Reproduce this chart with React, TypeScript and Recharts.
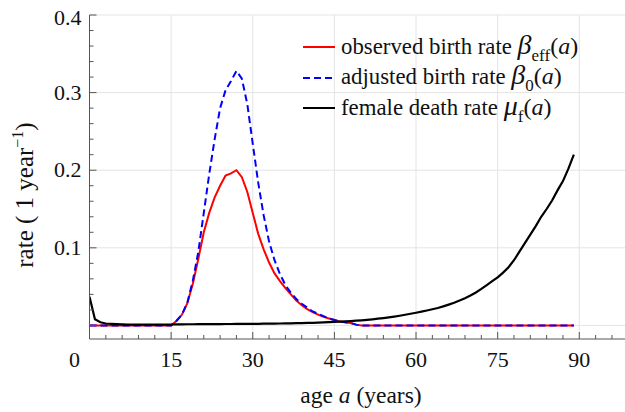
import { LineChart, Line, XAxis, YAxis, CartesianGrid, Legend } from "recharts";

// age in years
const ages = [
  0, 1, 2, 3, 4, 5, 6, 7, 8, 9, 10, 11, 12, 13, 14, 15, 16, 17, 18, 19,
  20, 21, 22, 23, 24, 25, 26, 27, 28, 29, 30, 31, 32, 33, 34, 35, 36, 37, 38, 39,
  40, 41, 42, 43, 44, 45, 46, 47, 48, 49, 50, 51, 52, 53, 54, 55, 56, 57, 58, 59,
  60, 61, 62, 63, 64, 65, 66, 67, 68, 69, 70, 71, 72, 73, 74, 75, 76, 77, 78, 79,
  80, 81, 82, 83, 84, 85, 86, 87, 88, 89,
];

const observedBirth = [
  0, 0, 0, 0, 0, 0, 0, 0, 0, 0, 0, 0, 0, 0, 0, 0, 0.006, 0.014, 0.029, 0.054,
  0.086, 0.12, 0.145, 0.165, 0.18, 0.193, 0.196, 0.2, 0.191, 0.172, 0.145, 0.118, 0.098, 0.081, 0.067, 0.057, 0.048, 0.04, 0.032, 0.026,
  0.021, 0.017, 0.014, 0.011, 0.009, 0.007, 0.005, 0.004, 0.003, 0.001, 0, 0, 0, 0, 0, 0, 0, 0, 0, 0,
  0, 0, 0, 0, 0, 0, 0, 0, 0, 0, 0, 0, 0, 0, 0, 0, 0, 0, 0, 0,
  0, 0, 0, 0, 0, 0, 0, 0, 0, 0,
];

const adjustedBirth = [
  0, 0, 0, 0, 0, 0, 0, 0, 0, 0, 0, 0, 0, 0, 0, 0, 0.006, 0.014, 0.03, 0.058,
  0.095, 0.145, 0.195, 0.24, 0.28, 0.303, 0.315, 0.328, 0.318, 0.285, 0.234, 0.184, 0.142, 0.108, 0.084, 0.066, 0.052, 0.042, 0.034, 0.028,
  0.023, 0.018, 0.015, 0.012, 0.009, 0.007, 0.005, 0.004, 0.003, 0.001, 0, 0, 0, 0, 0, 0, 0, 0, 0, 0,
  0, 0, 0, 0, 0, 0, 0, 0, 0, 0, 0, 0, 0, 0, 0, 0, 0, 0, 0, 0,
  0, 0, 0, 0, 0, 0, 0, 0, 0, 0,
];

const femaleDeath = [
  0.037, 0.008, 0.004, 0.0025, 0.002, 0.0016, 0.0013, 0.0011, 0.001, 0.001, 0.001, 0.001, 0.001, 0.001, 0.0011, 0.0012, 0.0013, 0.0014, 0.0015, 0.0015,
  0.0016, 0.0016, 0.0016, 0.0017, 0.0017, 0.0018, 0.0018, 0.0019, 0.0019, 0.002, 0.002, 0.0021, 0.0022, 0.0023, 0.0024, 0.0025, 0.0026, 0.0027, 0.0029, 0.003,
  0.0032, 0.0034, 0.0036, 0.0039, 0.0042, 0.0045, 0.0048, 0.0052, 0.0056, 0.0061, 0.0066, 0.0072, 0.0079, 0.0087, 0.0095, 0.0104, 0.0114, 0.0125, 0.0137, 0.015,
  0.0163, 0.0177, 0.0192, 0.0208, 0.0225, 0.0245, 0.0268, 0.0292, 0.032, 0.035, 0.0385, 0.0425, 0.047, 0.052, 0.057, 0.062, 0.068, 0.075, 0.084, 0.095,
  0.106, 0.117, 0.128, 0.14, 0.15, 0.161, 0.174, 0.186, 0.202, 0.22,
];

const xTicks = [0, 3, 6, 9, 12, 15, 18, 21, 24, 27, 30, 33, 36, 39, 42, 45, 48, 51, 54, 57, 60, 63, 66, 69, 72, 75, 78, 81, 84, 87, 90, 93, 96];
const yTicks = [0, 0.02, 0.04, 0.06, 0.08, 0.1, 0.12, 0.14, 0.16, 0.18, 0.2, 0.22, 0.24, 0.26, 0.28, 0.3, 0.32, 0.34, 0.36, 0.38, 0.4];
const xGrid = [15, 30, 45, 60, 75, 90];
const yGrid = [0, 0.1, 0.2, 0.3, 0.4];

const data = ages.map((age, i) => ({
  age,
  observed: observedBirth[i],
  adjusted: adjustedBirth[i],
  death: femaleDeath[i],
}));

const FONT = "'Liberation Serif', 'Times New Roman', serif";
const FRAME = "#555";

const XTick = (props: any) => {
  const { x, y, payload, top } = props;
  const v = payload.value;
  const major = v % 15 === 0;
  const len = major ? 7 : 4;
  if (top) {
    return <line x1={x} x2={x} y1={y} y2={y + len} stroke={FRAME} strokeWidth={1} />;
  }
  return (
    <g>
      <line x1={x} x2={x} y1={y} y2={y - len} stroke={FRAME} strokeWidth={1} />
      {major && (
        <text x={v === 0 ? x - 15 : x} y={y + 28} textAnchor="middle" fontFamily={FONT} fontSize={22} fill="#111">
          {v}
        </text>
      )}
    </g>
  );
};

const YTick = (props: any) => {
  const { x, y, payload } = props;
  const v = payload.value;
  const major = Math.round(v * 100) % 10 === 0;
  const len = major ? 7 : 4;
  return (
    <g>
      <line x1={x} x2={x + len} y1={y} y2={y} stroke={FRAME} strokeWidth={1} />
      {major && v > 0 && (
        <text x={x - 8} y={y + (v >= 0.4 ? 10 : 7)} textAnchor="end" fontFamily={FONT} fontSize={22} fill="#111">
          {v.toFixed(1)}
        </text>
      )}
    </g>
  );
};

const legendRows = [
  { color: "#ff0000", dash: undefined, text: "observed birth rate ", sym: "\u03b2", sub: "eff" },
  { color: "#0000ff", dash: "7 4", text: "adjusted birth rate ", sym: "\u03b2", sub: "0" },
  { color: "#000000", dash: undefined, text: "female death rate ", sym: "\u03bc", sub: "f" },
];

const ChartLegend = () => (
  <div style={{ fontFamily: FONT, fontSize: 22.8, color: "#111" }}>
    {legendRows.map((r) => (
      <div key={r.text} style={{ display: "flex", alignItems: "center", height: 30.5, whiteSpace: "nowrap" }}>
        <svg width={32} height={4} style={{ marginRight: 6 }}>
          <line x1={0} x2={32} y1={2} y2={2} stroke={r.color} strokeWidth={2} strokeDasharray={r.dash} />
        </svg>
        <span>
          {r.text}
          <i style={{ fontSize: 28 }}>{r.sym}</i>
          <span style={{ fontSize: 17, verticalAlign: -7 }}>{r.sub}</span>
          <span style={{ fontSize: 24 }}>
            (<i>a</i>)
          </span>
        </span>
      </div>
    ))}
  </div>
);

const XTitle = () => (
  <text x={361} y={403} textAnchor="middle" fontFamily={FONT} fontSize={23.5} fill="#111">
    age <tspan fontStyle="italic">a</tspan> (years)
  </text>
);

const YTitle = () => (
  <text x={0} y={0} transform="translate(33,195) rotate(-90)" textAnchor="middle" fontFamily={FONT} fontSize={25} fill="#111">
    rate ( 1 year<tspan fontSize={16} dy={-10}>{"\u22121"}</tspan>
    <tspan dy={10}>)</tspan>
  </text>
);

export default function App() {
  return (
    <div style={{ position: "absolute", left: 0, top: 0, width: 625, height: 412, overflow: "hidden", background: "#fff" }}>
      <LineChart width={625} height={412} data={data} margin={{ top: 15, right: 0, bottom: 0, left: 0 }}>
        <CartesianGrid stroke="#e4e4e4" strokeWidth={1} verticalValues={xGrid} horizontalValues={yGrid} />
        <XAxis
          dataKey="age"
          type="number"
          domain={[0, 98.4]}
          allowDataOverflow
          ticks={xTicks}
          interval={0}
          tickSize={0}
          tickMargin={0}
          tickLine={false}
          height={73}
          stroke={FRAME}
          tick={<XTick />}
          label={<XTitle />}
        />
        <XAxis
          xAxisId="top"
          orientation="top"
          dataKey="age"
          type="number"
          domain={[0, 98.4]}
          allowDataOverflow
          ticks={xTicks}
          interval={0}
          tickSize={0}
          tickMargin={0}
          tickLine={false}
          height={0}
          stroke={FRAME}
          tick={<XTick top />}
        />
        <YAxis
          type="number"
          domain={[-0.0175, 0.4]}
          allowDataOverflow
          ticks={yTicks}
          interval={0}
          tickSize={0}
          tickMargin={0}
          tickLine={false}
          width={89.5}
          stroke={FRAME}
          tick={<YTick />}
          label={<YTitle />}
        />
        <Line type="linear" dataKey="observed" stroke="#ff0000" strokeWidth={2} dot={false} isAnimationActive={false} />
        <Line type="linear" dataKey="adjusted" stroke="#0000ff" strokeWidth={2} strokeDasharray="7 4" dot={false} isAnimationActive={false} />
        <Line type="linear" dataKey="death" stroke="#000000" strokeWidth={2.2} dot={false} isAnimationActive={false} />
        <Legend
          layout="vertical"
          align="center"
          verticalAlign="middle"
          content={<ChartLegend />}
          wrapperStyle={{ top: 32, left: 303, width: 320 }}
        />
      </LineChart>
    </div>
  );
}
